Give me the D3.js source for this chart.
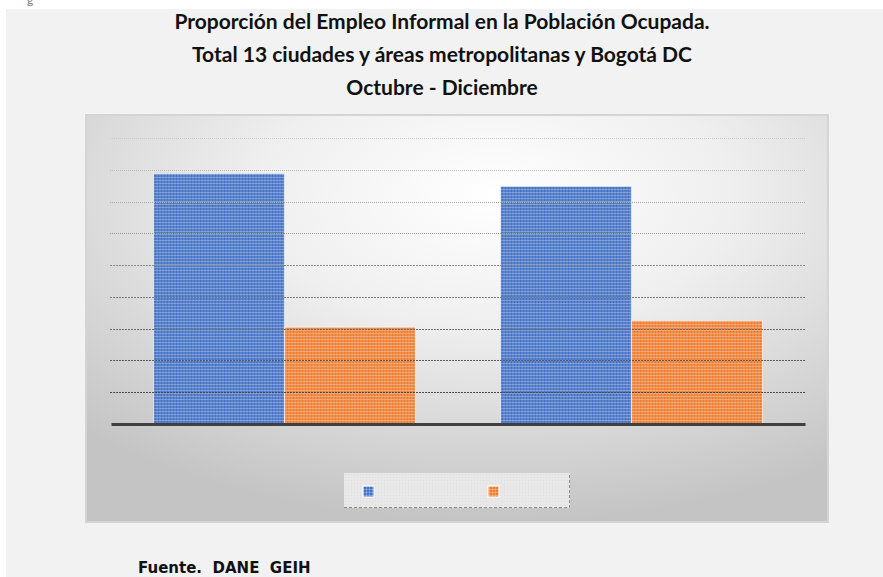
<!DOCTYPE html>
<html>
<head>
	<meta charset="utf-8">
	<title>Proporción del Empleo Informal</title>
	<style>
		body { margin: 0; background: #fff; }
		svg { display: block; }
	</style>
</head>
<body>
	<script src="https://d3js.org/d3.v7.min.js" charset="utf-8"></script>
	<script>
// data (no tick labels are shown, units are gridline steps of 10)
var categories = ['Periodo 1', 'Periodo 2'];
var seriesNames = ['Serie 1', 'Serie 2'];
var serie1 = [78.8, 74.8];
var serie2 = [30.5, 32.5];
var gridTicks = [10, 20, 30, 40, 50, 60, 70, 80, 90];
var titleLines = [
	'Proporción del Empleo Informal en la Población Ocupada.',
	'Total 13 ciudades y áreas metropolitanas y Bogotá DC',
	'Octubre - Diciembre'
];
var source = 'Fuente.  DANE  GEIH';

var colors = ['#4472c4', '#ed7d31'];

var svg = d3.select('body').append('svg')
			.attr('width', 883)
			.attr('height', 577);

var defs = svg.append('defs');

// plot area gradient
var grad = defs.append('radialGradient')
	.attr('id', 'plotBg')
	.attr('cx', '0.55').attr('cy', '0.2').attr('r', '0.8');
grad.append('stop').attr('offset', '0%').attr('stop-color', '#ffffff');
grad.append('stop').attr('offset', '40%').attr('stop-color', '#efefef');
grad.append('stop').attr('offset', '100%').attr('stop-color', '#c4c4c4');

// textured fills for the bars
colors.forEach(function(c, i) {
	var p = defs.append('pattern')
		.attr('id', 'tex' + i)
		.attr('patternUnits', 'userSpaceOnUse')
		.attr('width', 3).attr('height', 3);
	p.append('rect').attr('width', 3).attr('height', 3).attr('fill', c);
	p.append('rect').attr('width', 3).attr('height', 1).attr('fill', '#fff').attr('opacity', 0.25);
	p.append('rect').attr('width', 1).attr('height', 3).attr('fill', '#fff').attr('opacity', 0.25);
});

var lp = defs.append('pattern')
	.attr('id', 'legTex')
	.attr('patternUnits', 'userSpaceOnUse')
	.attr('width', 3).attr('height', 3);
lp.append('rect').attr('width', 3).attr('height', 3).attr('fill', '#e8e8e8');
lp.append('rect').attr('width', 1).attr('height', 1).attr('fill', '#dedede');

// page background
svg.append('rect')
	.attr('x', 6).attr('y', 9)
	.attr('width', 877).attr('height', 568)
	.attr('fill', '#f2f2f2');

// cut-off character at the top left (as in the source image)
svg.append('text')
	.attr('x', 27).attr('y', 4)
	.style('font-family', 'Lato, sans-serif')
	.style('font-size', '12px')
	.attr('fill', '#777')
	.text('g');

// title
svg.append('g').selectAll('text')
	.data(titleLines)
	.enter()
	.append('text')
	.attr('x', 442)
	.attr('y', function(d, i) { return 29 + i * 33; })
	.attr('text-anchor', 'middle')
	.style('font-family', 'Lato, sans-serif')
	.style('font-weight', 'bold')
	.style('font-size', '21px')
	.attr('fill', '#111')
	.text(function(d) { return d; });

// plot area
svg.append('rect')
	.attr('x', 86).attr('y', 115)
	.attr('width', 742).attr('height', 407)
	.attr('fill', 'url(#plotBg)')
	.attr('stroke', '#d4d4d4')
	.attr('stroke-width', 2);

var x0 = d3.scaleBand()
	.domain(categories)
	.range([111, 805])
	.paddingInner(0.245)
	.paddingOuter(0.1225);

var x1 = d3.scaleBand()
	.domain(seriesNames)
	.range([0, x0.bandwidth()]);

var y = d3.scaleLinear()
	.domain([0, 90])
	.range([424, 138]);

var rows = categories.map(function(c, i) {
	return { cat: c, values: [serie1[i], serie2[i]] };
});

var groups = svg.append('g').selectAll('g')
	.data(rows)
	.enter()
	.append('g')
	.attr('transform', function(d) { return 'translate(' + x0(d.cat) + ',0)'; });

groups.selectAll('rect')
	.data(function(d) { return d.values; })
	.enter()
	.append('rect')
	.attr('x', function(d, i) { return x1(seriesNames[i]); })
	.attr('y', function(d) { return y(d); })
	.attr('width', x1.bandwidth())
	.attr('height', function(d) { return y(0) - y(d); })
	.attr('fill', function(d, i) { return 'url(#tex' + i + ')'; })
	.attr('stroke', '#ffffff')
	.attr('stroke-opacity', 0.6)
	.attr('stroke-width', 1);

// gridlines drawn over the bars, darker toward the bottom
var gridColor = d3.scaleLinear().domain([90, 10]).range(['#cacaca', '#4a4a4a']);
svg.append('g').selectAll('line')
	.data(gridTicks)
	.enter()
	.append('line')
	.attr('x1', 110).attr('x2', 805)
	.attr('y1', function(d) { return Math.round(y(d)) + 0.5; })
	.attr('y2', function(d) { return Math.round(y(d)) + 0.5; })
	.attr('stroke', function(d) { return gridColor(d); })
	.attr('stroke-width', 1)
	.attr('stroke-dasharray', function(d) { return d > 50 ? '1,1' : '2,1'; });

// baseline axis
var xAxis = d3.axisBottom(x0).tickSize(0).tickFormat('');
svg.append('g')
	.attr('transform', 'translate(0,' + y(0) + ')')
	.call(xAxis)
	.call(function(g) {
		g.select('.domain')
			.attr('stroke', '#404040')
			.attr('stroke-width', 3);
	});

// legend (no labels are visible in the picture)
svg.append('rect')
	.attr('x', 344).attr('y', 473)
	.attr('width', 226).attr('height', 35)
	.attr('fill', 'url(#legTex)');
svg.append('path')
	.attr('d', 'M344,507.5H569.5V473')
	.attr('fill', 'none')
	.attr('stroke', '#8a8a8a')
	.attr('stroke-dasharray', '3,2');

var legendX = d3.scalePoint().domain(seriesNames).range([363, 488]);
svg.append('g').selectAll('rect')
	.data(seriesNames)
	.enter()
	.append('rect')
	.attr('x', function(d) { return legendX(d); })
	.attr('y', 486)
	.attr('width', 11).attr('height', 11)
	.attr('fill', function(d, i) { return 'url(#tex' + i + ')'; })
	.attr('stroke', '#fff')
	.attr('stroke-width', 1);

// source
svg.append('text')
	.attr('x', 138).attr('y', 573)
	.style('font-family', '"DejaVu Sans", sans-serif')
	.style('font-weight', 'bold')
	.style('font-size', '15px')
	.attr('fill', '#111')
	.style('white-space', 'pre')
	.text(source);
	</script>
</body>
</html>
